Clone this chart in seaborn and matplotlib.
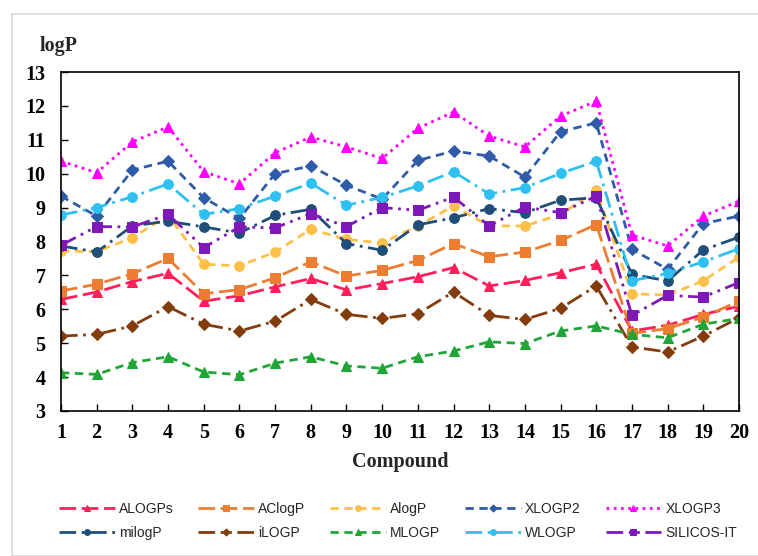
import pandas as pd
import matplotlib.pyplot as plt
import seaborn as sns
from matplotlib.patches import Rectangle

# ---------------------------------------------------------------
# data
# ---------------------------------------------------------------
compounds = list(range(1, 21))

ALOGPs = [6.29, 6.51, 6.82, 7.06, 6.24, 6.40, 6.66, 6.91, 6.57, 6.76,
          6.96, 7.23, 6.69, 6.85, 7.08, 7.33, 5.36, 5.53, 5.85, 6.09]
AClogP = [6.54, 6.74, 7.05, 7.50, 6.46, 6.58, 6.93, 7.40, 6.98, 7.15,
          7.44, 7.94, 7.55, 7.69, 8.03, 8.50, 5.29, 5.43, 5.77, 6.24]
AlogP = [7.72, 7.70, 8.11, 8.78, 7.33, 7.28, 7.69, 8.36, 8.06, 7.96,
         8.46, 9.05, 8.46, 8.46, 8.80, 9.51, 6.46, 6.42, 6.84, 7.54]
XLOGP2 = [9.34, 8.75, 10.11, 10.37, 9.29, 8.68, 10.00, 10.23, 9.66, 9.25,
          10.39, 10.67, 10.52, 9.90, 11.24, 11.50, 7.77, 7.18, 8.53, 8.75]
XLOGP3 = [10.37, 10.03, 10.94, 11.38, 10.06, 9.70, 10.62, 11.08, 10.79, 10.45,
          11.34, 11.82, 11.11, 10.79, 11.70, 12.14, 8.19, 7.87, 8.75, 9.19]
milogP = [7.87, 7.69, 8.46, 8.60, 8.43, 8.25, 8.77, 8.95, 7.94, 7.74,
          8.49, 8.70, 8.97, 8.85, 9.22, 9.29, 7.03, 6.84, 7.75, 8.13]
iLOGP = [5.21, 5.26, 5.51, 6.08, 5.56, 5.36, 5.65, 6.29, 5.85, 5.73,
         5.87, 6.51, 5.82, 5.70, 6.03, 6.69, 4.89, 4.74, 5.21, 5.75]
MLOGP = [4.13, 4.08, 4.43, 4.60, 4.15, 4.07, 4.41, 4.60, 4.33, 4.26,
         4.60, 4.77, 5.04, 4.99, 5.36, 5.51, 5.26, 5.16, 5.56, 5.73]
WLOGP = [8.78, 9.00, 9.32, 9.70, 8.80, 8.97, 9.34, 9.72, 9.07, 9.30,
         9.64, 10.06, 9.40, 9.59, 10.01, 10.37, 6.84, 7.06, 7.40, 7.79]
SILICOS_IT = [7.89, 8.44, 8.43, 8.80, 7.82, 8.43, 8.40, 8.82, 8.44, 9.00,
              8.92, 9.31, 8.46, 9.02, 8.85, 9.34, 5.82, 6.41, 6.36, 6.79]

y_ticks = [3, 4, 5, 6, 7, 8, 9, 10, 11, 12, 13]

# legend order is row by row: first row, then second row
series = {
    'ALOGPs': ALOGPs, 'AClogP': AClogP, 'AlogP': AlogP,
    'XLOGP2': XLOGP2, 'XLOGP3': XLOGP3,
    'milogP': milogP, 'iLOGP': iLOGP, 'MLOGP': MLOGP,
    'WLOGP': WLOGP, 'SILICOS-IT': SILICOS_IT,
}

# style: color, marker, dash pattern (in linewidth units)
styles = {
    'ALOGPs':     ('#FF1F5A', '^', (6, 2)),
    'AClogP':     ('#ED7D31', 's', (6, 2)),
    'AlogP':      ('#FFC04A', 'o', (3, 2)),
    'XLOGP2':     ('#2F5BA8', 'D', (3, 2)),
    'XLOGP3':     ('#FF00FF', '^', (1, 1.6)),
    'milogP':     ('#1F4E79', 'o', (6, 2, 1, 2)),
    'iLOGP':      ('#843C0C', 'D', (6, 2, 1, 2, 1, 2)),
    'MLOGP':      ('#1FA637', '^', (3, 2)),
    'WLOGP':      ('#2DC0F0', 'o', (6, 2, 1, 2)),
    'SILICOS-IT': ('#7E18B8', 's', (6, 2, 1, 2, 1, 2)),
}

# ---------------------------------------------------------------
# plot
# ---------------------------------------------------------------
sns.set_style("white")
plt.rcParams['font.family'] = ['Liberation Serif', 'DejaVu Serif']

fig = plt.figure(figsize=(7.58, 5.56), dpi=100)
ax = fig.add_axes([61 / 758, 1 - 411 / 556, (739 - 61) / 758, (411 - 72) / 556])

# light gray outer frame like the chart area in excel
fig.patches.append(Rectangle((12 / 758, 0), 2, 1 - 14 / 556, transform=fig.transFigure,
                             fill=False, edgecolor='#D9D9D9', linewidth=1.2))

for name, vals in series.items():
    color, marker, dash = styles[name]
    msize = 6 if marker == 'D' else 7
    sns.lineplot(x=compounds, y=vals, ax=ax, color=color, marker=marker,
                 markersize=msize, markeredgecolor=color, linewidth=2.0,
                 linestyle=(0, dash), label=name, legend=False)

ax.set_xlim(1, 20)
ax.set_ylim(3, 13)
ax.set_xticks(compounds)
ax.set_yticks(y_ticks)
ax.set_xlabel('')
ax.set_ylabel('')

for sp in ax.spines.values():
    sp.set_color('black')
    sp.set_linewidth(1.2)

ax.tick_params(axis='both', direction='in', length=5, width=1, colors='black',
               labelsize=14.5)
ax.tick_params(axis='y', pad=11, left=True)
ax.tick_params(axis='x', pad=9, bottom=True)
for lab in ax.get_xticklabels() + ax.get_yticklabels():
    lab.set_fontweight('bold')

fig.text(40 / 758, 1 - 46 / 556, 'logP', fontsize=14.5, fontweight='bold',
         ha='left', va='center')
fig.text(400 / 758, 1 - 462 / 556, 'Compound', fontsize=14.5, fontweight='bold',
         ha='center', va='center')

# legend: matplotlib fills columns first, so reorder
handles, labels = ax.get_legend_handles_labels()
order = [0, 5, 1, 6, 2, 7, 3, 8, 4, 9]
leg = fig.legend([handles[i] for i in order], [labels[i] for i in order],
                 loc='center', bbox_to_anchor=(398 / 758, 1 - 521 / 556), ncol=5,
                 frameon=False, handlelength=4.0, columnspacing=1.8,
                 handletextpad=0.3, labelspacing=0.7, markerscale=0.6,
                 prop={'family': ['Liberation Sans', 'DejaVu Sans'], 'size': 10})

fig.savefig('out.png', dpi=100)
